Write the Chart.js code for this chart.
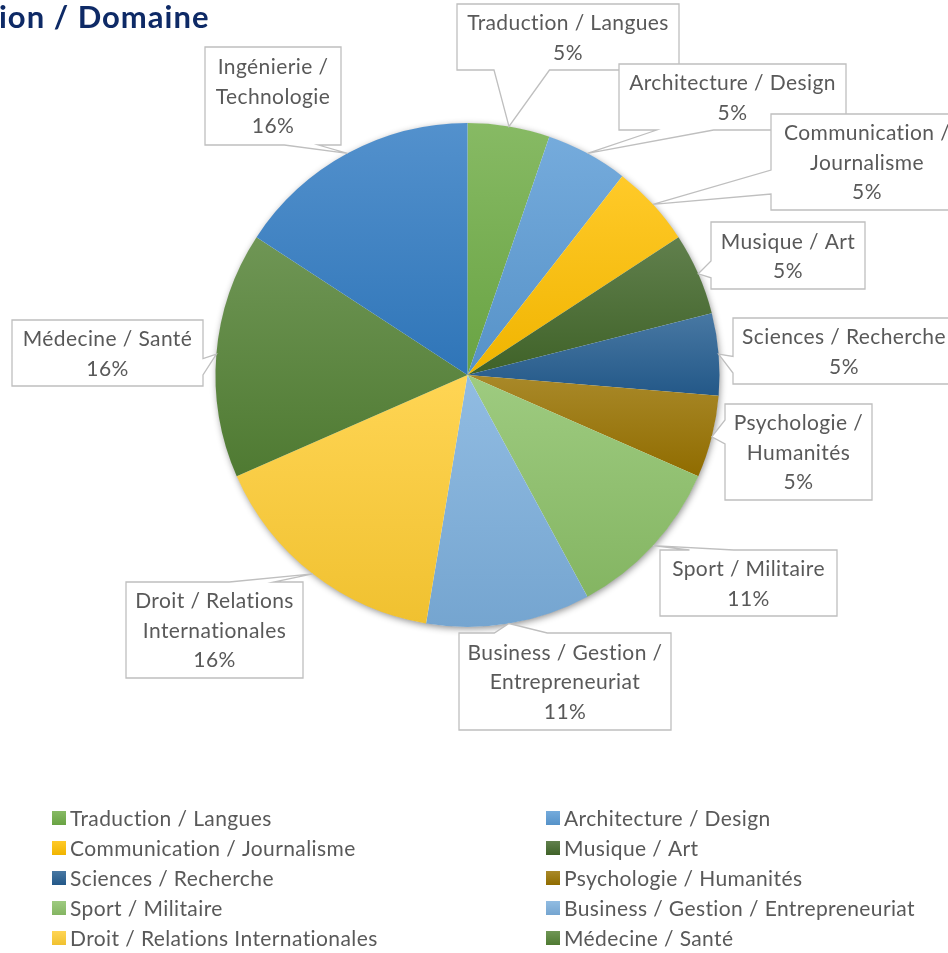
<!DOCTYPE html>
<html lang="fr">
<head>
<meta charset="utf-8">
<title>Orientation / Domaine</title>
<script src="https://cdn.jsdelivr.net/npm/chart.js@4.4.1/dist/chart.umd.min.js"></script>
<style>
  html, body { margin: 0; padding: 0; background: #fff; overflow: hidden; }
  #domaines { display: block; }
</style>
</head>
<body>
<canvas id="domaines" width="948" height="953"></canvas>
<script>
const domaines = [
  "Traduction / Langues",
  "Architecture / Design",
  "Communication / Journalisme",
  "Musique / Art",
  "Sciences / Recherche",
  "Psychologie / Humanités",
  "Sport / Militaire",
  "Business / Gestion / Entrepreneuriat",
  "Droit / Relations Internationales",
  "Médecine / Santé",
  "Ingénierie / Technologie"
];
const effectifs = [1, 1, 1, 1, 1, 1, 2, 2, 3, 3, 3];
const couleurs = [
  "#70AD47", "#5B9BD5", "#FFC000", "#43682B", "#255E91", "#997300",
  "#8CC168", "#7CAFDD", "#FFCD33", "#548235", "#327CC4"
];
const titre = "ion / Domaine";

// callout boxes [x, y, w, h], one per slice
const bulles = [
  [457, 4, 222, 66],
  [619, 64, 227, 66],
  [771, 114, 192, 96],
  [711, 222, 154, 67],
  [733, 318, 222, 66],
  [725, 404, 147, 96],
  [660, 550, 177, 66],
  [459, 633, 212, 97],
  [126, 582, 177, 96],
  [12, 320, 191, 66],
  [205, 47, 136, 98]
];

const FONT = "Lato, 'Open Sans', sans-serif";
const GRIS = "#595959";
const total = effectifs.reduce((a, b) => a + b, 0);

function mix(hex, target, t) {
  const n = parseInt(hex.slice(1), 16);
  const c = [(n >> 16) & 255, (n >> 8) & 255, n & 255];
  return "rgb(" + c.map(v => Math.round(v + (target - v) * t)).join(",") + ")";
}

function degrade(ctx, hex, y0, y1) {
  const g = ctx.createLinearGradient(0, y0, 0, y1);
  g.addColorStop(0, mix(hex, 255, 0.16));
  g.addColorStop(1, mix(hex, 0, 0.06));
  return g;
}

// angles of slice i, same convention as the pie (starts at 12 o'clock)
function angles(i) {
  let cum = 0;
  for (let k = 0; k < i; k++) cum += effectifs[k];
  const a0 = -Math.PI / 2 + 2 * Math.PI * cum / total;
  return [a0, a0 + 2 * Math.PI * effectifs[i] / total];
}

function fondPart(context) {
  const chart = context.chart;
  const i = context.dataIndex;
  const area = chart.chartArea;
  if (!area || i === undefined) return couleurs[i] || "#999";
  const cx = (area.left + area.right) / 2, cy = (area.top + area.bottom) / 2;
  const r = Math.min(area.right - area.left, area.bottom - area.top) / 2;
  const [a0, a1] = angles(i);
  let ys = [cy, cy + r * Math.sin(a0), cy + r * Math.sin(a1)];
  [-Math.PI / 2, Math.PI / 2, 3 * Math.PI / 2].forEach(a => {
    if (a > a0 && a < a1) ys.push(cy + r * Math.sin(a));
  });
  return degrade(chart.ctx, couleurs[i], Math.min(...ys), Math.max(...ys));
}

function bullePath(ctx, x, y, w, h, tx, ty) {
  const dx = tx - (x + w / 2), dy = ty - (y + h / 2);
  const dedans = tx >= x && tx <= x + w && ty >= y && ty <= y + h;
  const horiz = Math.abs(dx) * h > Math.abs(dy) * w;
  const ha = dx < 0 ? w / 6 : 7 * w / 12, hb = dx < 0 ? 5 * w / 12 : 5 * w / 6;
  const va = dy < 0 ? h / 6 : 7 * h / 12, vb = dy < 0 ? 5 * h / 12 : 5 * h / 6;
  ctx.beginPath();
  ctx.moveTo(x, y);
  if (!dedans && !horiz && dy < 0) {
    ctx.lineTo(x + ha, y); ctx.lineTo(tx, ty); ctx.lineTo(x + hb, y);
  }
  ctx.lineTo(x + w, y);
  if (!dedans && horiz && dx > 0) {
    ctx.lineTo(x + w, y + va); ctx.lineTo(tx, ty); ctx.lineTo(x + w, y + vb);
  }
  ctx.lineTo(x + w, y + h);
  if (!dedans && !horiz && dy > 0) {
    ctx.lineTo(x + hb, y + h); ctx.lineTo(tx, ty); ctx.lineTo(x + ha, y + h);
  }
  ctx.lineTo(x, y + h);
  if (!dedans && horiz && dx < 0) {
    ctx.lineTo(x, y + vb); ctx.lineTo(tx, ty); ctx.lineTo(x, y + va);
  }
  ctx.closePath();
}

function couper(ctx, texte, largeur) {
  const mots = texte.split(" ");
  const lignes = [];
  let cur = "";
  mots.forEach(m => {
    const essai = cur ? cur + " " + m : m;
    if (cur && ctx.measureText(essai).width > largeur) {
      lignes.push(cur);
      cur = m;
    } else {
      cur = essai;
    }
  });
  if (cur) lignes.push(cur);
  return lignes;
}

function police(ctx, taille, gras) {
  ctx.font = (gras ? "bold " : "") + taille + "px " + FONT;
  ctx.letterSpacing = gras ? "1px" : "0.4px";
}

const ombrePlugin = {
  id: "ombre",
  beforeDatasetsDraw(chart) {
    const arc = chart.getDatasetMeta(0).data[0];
    if (!arc) return;
    const ctx = chart.ctx;
    ctx.save();
    ctx.shadowColor = "rgba(0,0,0,0.45)";
    ctx.shadowBlur = 7;
    ctx.shadowOffsetX = 1;
    ctx.shadowOffsetY = 2;
    ctx.fillStyle = "#fff";
    ctx.beginPath();
    ctx.arc(arc.x, arc.y, arc.outerRadius - 0.5, 0, 2 * Math.PI);
    ctx.fill();
    ctx.restore();
  }
};

const bullesPlugin = {
  id: "bulles",
  afterDatasetsDraw(chart) {
    const ctx = chart.ctx;
    const meta = chart.getDatasetMeta(0);
    ctx.save();
    police(ctx, 21, false);
    meta.data.forEach((arc, i) => {
      const [x, y, w, h] = bulles[i];
      const mid = (arc.startAngle + arc.endAngle) / 2;
      const tx = arc.x + Math.cos(mid) * arc.outerRadius;
      const ty = arc.y + Math.sin(mid) * arc.outerRadius;
      bullePath(ctx, x, y, w, h, tx, ty);
      ctx.fillStyle = "#fff";
      ctx.fill();
      ctx.strokeStyle = "#BFBFBF";
      ctx.lineWidth = 1.3;
      ctx.stroke();

      const pct = Math.round(effectifs[i] / total * 100) + "%";
      const lignes = couper(ctx, domaines[i], w - 4).concat([pct]);
      const lh = 29.5;
      const y0 = y + h / 2 - (lignes.length - 1) * lh / 2 + 1;
      ctx.fillStyle = GRIS;
      ctx.textAlign = "center";
      ctx.textBaseline = "middle";
      lignes.forEach((l, k) => ctx.fillText(l, x + w / 2, y0 + k * lh));
    });
    ctx.restore();
  }
};

const legendePlugin = {
  id: "legende",
  afterDraw(chart) {
    const ctx = chart.ctx;
    ctx.save();
    // two columns, five rows visible
    police(ctx, 21, false);
    ctx.textBaseline = "middle";
    ctx.textAlign = "left";
    const cols = [52, 546];
    for (let i = 0; i < 10; i++) {
      const x = cols[i % 2];
      const y = 818 + Math.floor(i / 2) * 30;
      ctx.fillStyle = degrade(ctx, couleurs[i], y - 7, y + 7);
      ctx.fillRect(x, y - 7, 14, 14);
      ctx.fillStyle = GRIS;
      ctx.fillText(domaines[i], x + 18, y + 1);
    }
    // title, running off the left edge
    police(ctx, 31, true);
    ctx.fillStyle = "#0E2A66";
    ctx.textBaseline = "alphabetic";
    ctx.fillText(titre, -1, 28);
    ctx.restore();
  }
};

new Chart(document.getElementById("domaines"), {
  type: "pie",
  data: {
    labels: domaines,
    datasets: [{
      data: effectifs,
      backgroundColor: fondPart,
      borderWidth: 0
    }]
  },
  options: {
    responsive: false,
    animation: false,
    layout: { padding: { left: 215, right: 228, top: 123, bottom: 326 } },
    plugins: {
      legend: { display: false },
      tooltip: { enabled: false }
    }
  },
  plugins: [ombrePlugin, bullesPlugin, legendePlugin]
});
</script>
</body>
</html>
